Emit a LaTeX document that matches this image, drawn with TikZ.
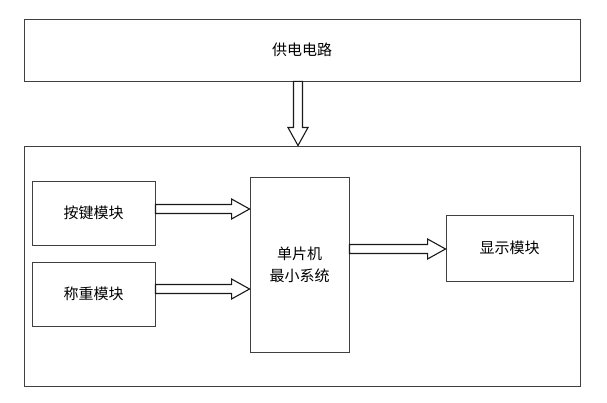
\documentclass[tikz,border=0pt]{standalone}
\usepackage{fontspec}
\setmainfont{Noto Sans CJK SC}
\usetikzlibrary{calc}

\tikzset{
  block/.style={draw=black!75, line width=0.9pt, inner sep=0pt, align=center},
  blockarr/.style={draw=black!90, line width=1.1pt, fill=white, line join=miter}
}

% hollow block arrow from #1 to #2
\newcommand{\blockarrow}[2]{%
  \coordinate (ba-n) at ($(#2)!\headlen!(#1)$);
  \draw[blockarr] ($(#1)!\shaftw!90:(#2)$) -- ($(ba-n)!\shaftw!90:(#2)$)
     -- ($(ba-n)!\headw!90:(#2)$) -- (#2) -- ($(ba-n)!\headw!-90:(#2)$)
     -- ($(ba-n)!\shaftw!-90:(#2)$) -- ($(#1)!\shaftw!-90:(#2)$) -- cycle;
}

\begin{document}
\begin{tikzpicture}[x=1pt, y=-1pt, font=\fontsize{15}{22}\selectfont]

      \useasboundingbox (0,0) rectangle (607,403);

      \def\shaftw{4.5pt}
      \def\headw{10pt}
      \def\headlen{18pt}

	% the boxes
	\node[block, minimum width=556pt, minimum height=62pt] (power) at (302,50) {供电电路};
	\node[block, minimum width=556pt, minimum height=240pt] (system) at (302,266) {};

	\node[block, minimum width=123pt, minimum height=64pt] (key) at (93.5,213) {按键模块};
	\node[block, minimum width=123pt, minimum height=64pt] (weigh) at (93.5,294) {称重模块};
	\node[block, minimum width=99pt, minimum height=175pt] (mcu) at (299.5,264.5) {单片机\\最小系统};
	\node[block, minimum width=127pt, minimum height=66pt] (disp) at (509.5,248) {显示模块};

       \coordinate (P1) at (298,0 |- power.south);
       \coordinate (P2) at (298,0 |- system.north);
       \coordinate (K1) at (key.east |- 0,209);
       \coordinate (K2) at (mcu.west |- K1);
       \coordinate (W1) at (weigh.east |- 0,289);
       \coordinate (W2) at (mcu.west |- W1);
       \coordinate (D1) at (mcu.east |- 0,249);
       \coordinate (D2) at (disp.west |- D1);

	% the arrows
	\blockarrow{P1}{P2}
	\blockarrow{K1}{K2}
	\blockarrow{W1}{W2}
	\blockarrow{D1}{D2}

\end{tikzpicture}
\end{document}
